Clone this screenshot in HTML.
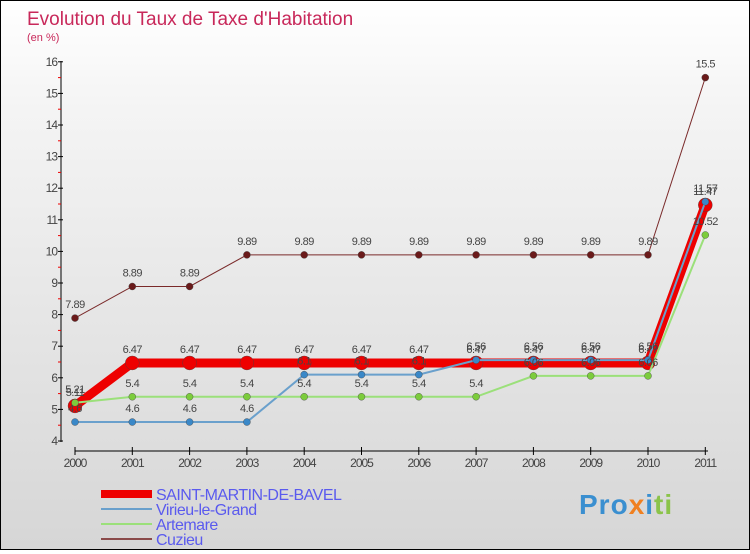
<!DOCTYPE html>
<html><head><meta charset="utf-8"><style>
body{margin:0}
#c{width:748px;height:548px;border:1px solid #000;background:linear-gradient(#fff,#f4f4f4 20%,#d6d6d6);position:relative;font-family:"Liberation Sans",sans-serif}
</style></head><body>
<div id="c">
<svg width="748" height="548" id="s">
<text x="26" y="24" font-size="19" fill="#c8285a">Evolution du Taux de Taxe d'Habitation</text>
<text x="26" y="40" font-size="11" fill="#c8285a">(en %)</text>
</svg>
<div style="position:absolute;left:578px;top:488px;font-size:28px;font-weight:bold;letter-spacing:1px"><span style="color:#3a8fd0">Pro</span><span style="color:#f08020">x</span><span style="color:#3a8fd0">i</span><span style="color:#8bc34a">ti</span></div>
</div>
<script>
const years=[2000,2001,2002,2003,2004,2005,2006,2007,2008,2009,2010,2011];
const saint=[5.11,6.47,6.47,6.47,6.47,6.47,6.47,6.47,6.47,6.47,6.47,11.47];
const virieu=[4.6,4.6,4.6,4.6,6.1,6.1,6.1,6.56,6.56,6.56,6.56,11.57];
const artemare=[5.21,5.4,5.4,5.4,5.4,5.4,5.4,5.4,6.06,6.06,6.06,10.52];
const cuzieu=[7.89,8.89,8.89,9.89,9.89,9.89,9.89,9.89,9.89,9.89,9.89,15.5];
const yTicks=[4,5,6,7,8,9,10,11,12,13,14,15,16];
const names=["SAINT-MARTIN-DE-BAVEL","Virieu-le-Grand","Artemare","Cuzieu"];
const NS="http://www.w3.org/2000/svg",svg=document.getElementById('s');
const X=i=>74+i*57.3, Y=v=>440-(v-4)*31.6;
function mk(t,a,p){const e=document.createElementNS(NS,t);for(const k in a)e.setAttribute(k,a[k]);(p||svg).appendChild(e);return e;}
let ax=mk('line',{x1:60,y1:60,x2:60,y2:441,stroke:'#000'});


yTicks.forEach(v=>{mk('line',{x1:57,x2:62,y1:Y(v),y2:Y(v),stroke:'#000'});
 if(v<16)mk('line',{x1:57,x2:60,y1:Y(v+.5),y2:Y(v+.5),stroke:'#e00'});
 const t=mk('text',{x:56,y:Y(v)+4,'font-size':12,fill:'#444','text-anchor':'end','letter-spacing':'-1'});t.textContent=v;
 
 });
let xa=mk('line',{x1:74,y1:450,x2:707,y2:450,stroke:'#000'});


years.forEach((y,i)=>{mk('line',{x1:X(i),x2:X(i),y1:446,y2:454,stroke:'#000'});
 const t=mk('text',{x:X(i),y:466,'font-size':12,fill:'#444','text-anchor':'middle','letter-spacing':'-1'});t.textContent=y;
 
 });
const series=[[saint,'#ee0000',9,7,'#ee0000',0],[virieu,'#6aa0cc',2,3.5,'#3a88c8',1],[artemare,'#9be07a',2,3.5,'#7ccc3c',2],[cuzieu,'#7a2a2a',1,3.5,'#6a1a1a',3]];
series.forEach(([d,c,w,r,pc,ni])=>{
 const g=mk('g',{});
 
 
 mk('polyline',{points:d.map((v,i)=>X(i)+','+Y(v)).join(' '),fill:'none',stroke:c,'stroke-width':w},g);
 d.forEach((v,i)=>{const p=mk('circle',{cx:X(i),cy:Y(v),r:r,fill:pc,stroke:'#444','stroke-width':0.4},g);
  
  
  const t=mk('text',{x:X(i),y:Y(v)-10,'font-size':11,fill:'#444','text-anchor':'middle','letter-spacing':'-0.5'},g);t.textContent=v;});
});
names.forEach((n,i)=>{const y=493+i*15;const cols=['#ee0000','#6aa0cc','#9be07a','#8a4a4a'];
 mk('line',{x1:100,x2:151,y1:y,y2:y,stroke:cols[i],'stroke-width':i==0?8:2});
 const t=mk('text',{x:155,y:y+6,'font-size':16,fill:'#5a5aee','letter-spacing':'-0.5'});t.textContent=n;
 
 });
</script>
</body></html>
